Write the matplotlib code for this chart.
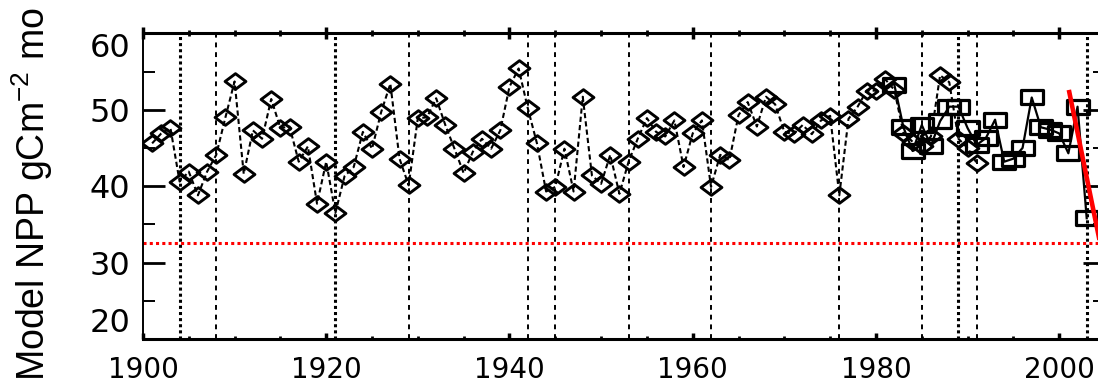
import matplotlib
matplotlib.use("Agg")
import matplotlib.pyplot as plt
from matplotlib.path import Path
from matplotlib.ticker import MultipleLocator, FixedLocator

plt.rcParams['font.family'] = 'DejaVu Sans'

# model NPP, long reconstruction (diamonds)
dia_years = list(range(1901, 1992))
dia_npp = [
    45.6, 46.9, 47.6, 40.6, 41.9, 38.8, 41.9, 44.1, 49.0, 53.7,   # 1901-1910
    41.6, 47.3, 46.2, 51.4, 47.6, 47.8, 43.2, 45.2, 37.7, 43.2,   # 1911-1920
    36.5, 41.3, 42.5, 47.1, 44.9, 49.7, 53.4, 43.6, 40.1, 48.9,   # 1921-1930
    49.0, 51.5, 48.0, 44.9, 41.7, 44.5, 46.2, 44.9, 47.3, 53.0,   # 1931-1940
    55.4, 50.2, 45.6, 39.3, 39.9, 44.9, 39.3, 51.7, 41.4, 40.3,   # 1941-1950
    44.1, 39.0, 43.2, 46.2, 48.9, 47.1, 46.5, 48.6, 42.5, 46.9,   # 1951-1960
    48.6, 39.9, 44.1, 43.4, 49.3, 51.0, 47.8, 51.7, 50.7, 47.1,   # 1961-1970
    46.8, 48.0, 46.8, 48.6, 49.2, 38.8, 48.8, 50.4, 52.5, 52.5,   # 1971-1980
    54.0, 52.6, 47.0, 45.8, 45.3, 46.5, 54.5, 53.6, 46.2, 45.0,   # 1981-1990
    43.0,                                                         # 1991
]

# model NPP, recent series (squares)
sq_years = list(range(1982, 2004))
sq_npp = [
    53.3, 47.7, 44.6, 48.0, 45.3, 48.5, 50.4, 50.4, 47.6, 45.4,   # 1982-1991
    46.3, 48.7, 43.2, 43.6, 45.0, 51.6, 47.7, 47.4, 46.9, 44.3,   # 1992-2001
    50.4, 35.8,                                                   # 2002-2003
]

strong_years = [1904, 1921, 1989, 2003]
weak_years = [1908, 1929, 1942, 1945, 1953, 1962, 1976, 1985, 1991]
threshold = 32.5
trend_x = [2001.1, 2005.0]
trend_y = [52.3, 29.4]
y_ticks = [20, 30, 40, 50, 60]

diamond = Path([(-1, 0), (0, 0.75), (1, 0), (0, -0.75), (-1, 0)], closed=True)
square = Path([(-1, -0.65), (1, -0.65), (1, 0.65), (-1, 0.65), (-1, -0.65)], closed=True)

fig = plt.figure(figsize=(10.98, 3.89), dpi=100)
ax = fig.add_axes([0.1302, 0.1285, 0.8762, 0.7859])

for yr in strong_years:
    ax.axvline(yr, color='k', lw=2.2, ls=(0, (1, 1)), zorder=1)
for yr in weak_years:
    ax.axvline(yr, color='k', lw=1.4, ls=(0, (2.5, 2.5)), zorder=1)

ax.axhline(threshold, color='#ff0000', lw=2.2, ls=(0, (1, 1.05)), zorder=2)

ax.plot(sq_years, sq_npp, color='k', lw=1.6, marker=square, ms=15.5,
        mfc='none', mec='k', mew=2.3, zorder=3)
ax.plot(dia_years, dia_npp, color='k', lw=1.5, ls=(0, (2.5, 1.5)),
        marker=diamond, ms=15, mfc='none', mec='k', mew=2.1, zorder=4)

ax.plot(trend_x, trend_y, color='#ff0000', lw=3.3, zorder=5)

ax.set_xlim(1900, 2005)
ax.set_ylim(20, 60)
ax.xaxis.set_major_locator(MultipleLocator(20))
ax.xaxis.set_minor_locator(MultipleLocator(5))
ax.yaxis.set_major_locator(FixedLocator(y_ticks))
ax.yaxis.set_minor_locator(MultipleLocator(5))

ax.tick_params(axis='y', which='major', direction='in', length=15.8, width=2,
               left=True, right=True, labelsize=23, pad=9)
ax.tick_params(axis='y', which='minor', direction='in', length=8.6, width=1.4,
               left=True, right=True)
ax.tick_params(axis='x', which='major', direction='in', length=4.5, width=2.5,
               bottom=True, top=False, labelsize=20, pad=12)
ax.tick_params(axis='x', which='minor', direction='in', length=2.2, width=2,
               bottom=True, top=False)

ax.spines['top'].set_linewidth(2.2)
ax.spines['bottom'].set_linewidth(2.2)
ax.spines['left'].set_linewidth(1.4)
ax.spines['right'].set_visible(False)

# top axis: ticks straddle the frame
top = ax.twiny()
top.set_xlim(ax.get_xlim())
top.xaxis.set_major_locator(MultipleLocator(20))
top.xaxis.set_minor_locator(MultipleLocator(5))
top.tick_params(axis='x', which='major', direction='inout', length=9, width=2.5,
                top=True, labeltop=False)
top.tick_params(axis='x', which='minor', direction='inout', length=4, width=2,
                top=True)
for s in top.spines.values():
    s.set_visible(False)

fig.canvas.draw()
for t in ax.yaxis.get_major_ticks():
    if t.get_loc() == 20:
        t.label1.set_va('bottom')
    elif t.get_loc() == 60:
        t.label1.set_va('top')

fig.text(32 / 1098, 0.5, r'Model NPP gCm$^{\mathregular{-2}}$ mo', rotation=90,
         ha='center', va='center', fontsize=27, family='Liberation Sans')

fig.savefig('out.png', dpi=100, facecolor='white')
